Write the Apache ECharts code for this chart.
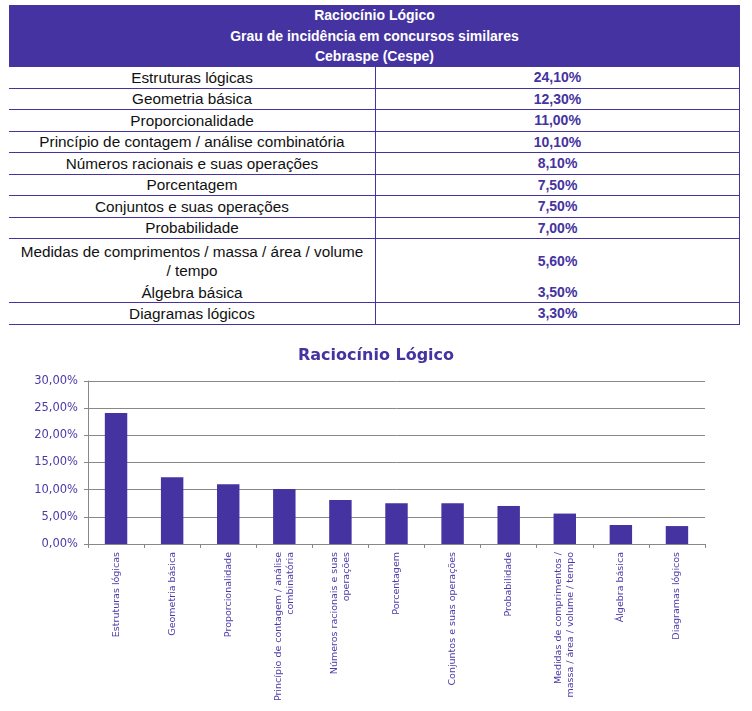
<!DOCTYPE html>
<html>
<head>
<meta charset="utf-8">
<script src="https://cdn.jsdelivr.net/npm/echarts@6/dist/echarts.min.js"></script>
<style>
  body { margin: 0; background: #fff; width: 752px; height: 711px; overflow: hidden; position: relative; }
  #tbl { position: absolute; left: 9px; top: 5px; width: 731px; font-family: "Liberation Sans", Arial, sans-serif; }
  .hd { background: #4433a0; color: #fff; font-weight: bold; font-size: 14px; line-height: 20.6px; height: 62px; text-align: center; }
  .row { display: flex; box-sizing: border-box; height: 21.5px; border-bottom: 1px solid #4433a0; }
  .row.tall { height: 43px; border-bottom: 0; }
  .row.sm { height: 21px; }
  .c1 { width: 366px; display: flex; align-items: center; justify-content: center; text-align: center; color: #111; font-size: 15.3px; line-height: 19px; }
  .c2 { flex: 1; display: flex; align-items: center; justify-content: center; color: #4433a0; font-weight: bold; font-size: 14px; border-left: 1px solid #4433a0; border-right: 1px solid #4433a0; }
  #main { position: absolute; left: 0; top: 330px; width: 752px; height: 381px; }
</style>
</head>
<body>
<div id="tbl"></div>
<div id="main"></div>
<script>
// dados da tabela / gráfico
var headerLines = ['Raciocínio Lógico', 'Grau de incidência em concursos similares', 'Cebraspe (Cespe)']
var topics = ['Estruturas lógicas', 'Geometria básica', 'Proporcionalidade', 'Princípio de contagem / análise combinatória', 'Números racionais e suas operações', 'Porcentagem', 'Conjuntos e suas operações', 'Probabilidade', 'Medidas de comprimentos / massa / área / volume / tempo', 'Álgebra básica', 'Diagramas lógicos']
var axisLabels = ['Estruturas lógicas', 'Geometria básica', 'Proporcionalidade', 'Princípio de contagem / análise\ncombinatória', 'Números racionais e suas\noperações', 'Porcentagem', 'Conjuntos e suas operações', 'Probabilidade', 'Medidas de comprimentos /\nmassa / área / volume / tempo', 'Álgebra básica', 'Diagramas lógicos']
var values = [24.1, 12.3, 11.0, 10.1, 8.1, 7.5, 7.5, 7.0, 5.6, 3.5, 3.3]
var yTicks = [0, 5, 10, 15, 20, 25, 30]

function pct (v) { return v.toFixed(2).replace('.', ',') + '%' }

// monta a tabela
var html = '<div class="hd">' + headerLines.join('<br>') + '</div>'
topics.forEach(function (t, i) {
  var cls = 'row'
  var txt = t
  if (i === 8) {
    cls += ' tall'
    txt = 'Medidas de comprimentos / massa / área / volume<br>/ tempo'
  }
  if (i === 9) cls += ' sm'
  html += '<div class="' + cls + '"><div class="c1">' + txt + '</div><div class="c2">' + pct(values[i]) + '</div></div>'
})
document.getElementById('tbl').innerHTML = html

var myChart = echarts.init(document.getElementById('main'))
var purple = '#4433a0'
var option = {
  title: {
    text: 'Raciocínio Lógico',
    left: 'center',
    top: 13,
    textStyle: { fontFamily: 'DejaVu Sans', fontWeight: 'bold', fontSize: 16, color: purple }
  },
  grid: { left: 88, right: 47, top: 51, height: 163 },
  xAxis: {
    type: 'category',
    data: axisLabels,
    axisLine: { lineStyle: { color: '#888' } },
    axisTick: { show: true, length: 4, lineStyle: { color: '#888' } },
    axisLabel: {
      rotate: 90,
      interval: 0,
      margin: 8,
      fontFamily: 'DejaVu Sans',
      fontSize: 9.5,
      lineHeight: 12,
      color: '#4a3aa8'
    }
  },
  yAxis: {
    type: 'value',
    min: yTicks[0],
    max: yTicks[yTicks.length - 1],
    interval: 5,
    axisLine: { show: true, lineStyle: { color: '#888' } },
    axisTick: { show: true, length: 4, lineStyle: { color: '#888' } },
    splitLine: { lineStyle: { color: '#888' } },
    axisLabel: {
      formatter: function (v) { return pct(v) },
      fontFamily: 'DejaVu Sans',
      fontSize: 11.5,
      color: '#4a3aa8',
      margin: 10
    }
  },
  series: [
    {
      type: 'bar',
      data: values,
      barWidth: '40%',
      itemStyle: { color: purple }
    }
  ]
}
myChart.setOption(option)
</script>
</body>
</html>
